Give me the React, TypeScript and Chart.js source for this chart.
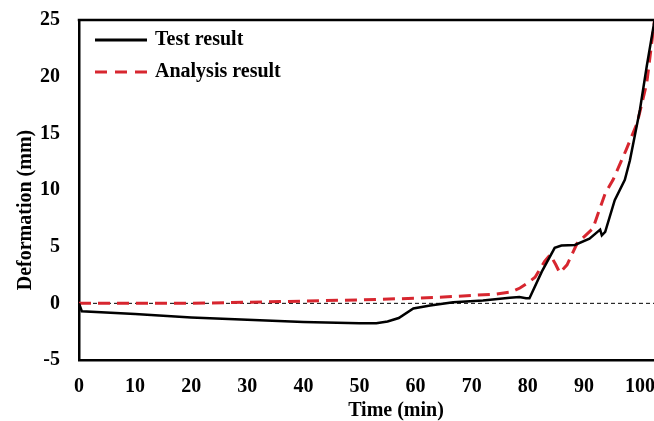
import React, { useEffect, useRef } from "react";
import { Chart, registerables } from "chart.js";

Chart.register(...registerables);

const testTime = [0, 0.5, 10, 20, 30, 40, 50, 53, 55, 57, 59.6, 62.6, 66.7, 72, 76.8, 78.5, 79.7, 80.3, 82.5, 84.8, 86, 88.4, 91, 92.9, 93.2, 93.8, 95.5, 97.3, 98.2, 100, 101.2, 102.3, 102.6];
const testDef = [0, -0.7, -0.95, -1.25, -1.45, -1.65, -1.75, -1.75, -1.6, -1.3, -0.45, -0.2, 0.1, 0.25, 0.5, 0.55, 0.45, 0.45, 2.8, 4.9, 5.1, 5.15, 5.7, 6.5, 6.0, 6.3, 9.1, 10.9, 12.6, 17.1, 20.9, 24.1, 25];

const anaTime = [0, 10, 20, 30, 40, 50, 60, 65, 70, 74, 77, 78.6, 80, 81.3, 83, 84, 85, 85.7, 87, 88.8, 91.6, 93.8, 95.2, 97.5, 99.5, 101.2, 102.1, 102.6];
const anaDef = [0, 0, 0, 0.1, 0.2, 0.3, 0.45, 0.55, 0.7, 0.8, 1.0, 1.35, 1.8, 2.3, 3.7, 4.3, 3.4, 2.7, 3.4, 5.3, 6.6, 9.7, 10.9, 13.5, 15.9, 19.4, 23, 25];

const xTicks = [0, 10, 20, 30, 40, 50, 60, 70, 80, 90, 100];
const yTicks = [-5, 0, 5, 10, 15, 20, 25];

const seriesNames = ["Test result", "Analysis result"];
const xTitle = "Time (min)";
const yTitle = "Deformation (mm)";

const FONT = '"Liberation Serif", "Times New Roman", serif';
const RED = "#d7262f";

export default function App() {
  const ref = useRef<HTMLCanvasElement | null>(null);

  useEffect(() => {
    document.body.style.margin = "0";
    const canvas = ref.current;
    if (!canvas) return;

    const decor = {
      id: "decor",
      beforeDatasetsDraw(chart: any) {
        const { ctx, chartArea, scales } = chart;
        const y0 = scales.y.getPixelForValue(0);
        ctx.save();
        ctx.strokeStyle = "#000";
        ctx.lineWidth = 1;
        ctx.setLineDash([4, 3]);
        ctx.beginPath();
        ctx.moveTo(chartArea.left, y0);
        ctx.lineTo(chartArea.right, y0);
        ctx.stroke();
        ctx.restore();
      },
      afterDraw(chart: any) {
        const { ctx, chartArea } = chart;
        ctx.save();
        // top border
        ctx.strokeStyle = "#000";
        ctx.lineWidth = 2.5;
        ctx.setLineDash([]);
        ctx.beginPath();
        ctx.moveTo(chartArea.left - 1.25, chartArea.top);
        ctx.lineTo(chartArea.right, chartArea.top);
        ctx.stroke();

        // legend
        ctx.lineWidth = 3;
        ctx.strokeStyle = "#000";
        ctx.beginPath();
        ctx.moveTo(95, 40);
        ctx.lineTo(147, 40);
        ctx.stroke();
        ctx.strokeStyle = RED;
        ctx.setLineDash([12, 8]);
        ctx.beginPath();
        ctx.moveTo(95, 72);
        ctx.lineTo(147, 72);
        ctx.stroke();
        ctx.setLineDash([]);
        ctx.fillStyle = "#000";
        ctx.font = `bold 20px ${FONT}`;
        ctx.textAlign = "left";
        ctx.textBaseline = "middle";
        ctx.fillText(seriesNames[0], 155, 40);
        ctx.fillText(seriesNames[1], 155, 72);

        // axis titles
        ctx.textAlign = "center";
        ctx.fillText(xTitle, 396, 411);
        ctx.translate(26, 210);
        ctx.rotate(-Math.PI / 2);
        ctx.fillText(yTitle, 0, 0);
        ctx.restore();
      },
    };

    const chart = new Chart(canvas, {
      type: "line",
      data: {
        datasets: [
          {
            label: seriesNames[0],
            data: testTime.map((t, i) => ({ x: t, y: testDef[i] })),
            borderColor: "#000",
            borderWidth: 2.5,
            pointRadius: 0,
            tension: 0,
            fill: false,
          },
          {
            label: seriesNames[1],
            data: anaTime.map((t, i) => ({ x: t, y: anaDef[i] })),
            borderColor: RED,
            borderWidth: 3,
            borderDash: [12, 7],
            pointRadius: 0,
            tension: 0,
            fill: false,
          },
        ],
      },
      options: {
        animation: false,
        responsive: false,
        devicePixelRatio: 1,
        layout: { padding: { top: 20, right: 0, left: 0, bottom: 0 } },
        plugins: {
          legend: { display: false },
          tooltip: { enabled: false },
        },
        scales: {
          x: {
            type: "linear",
            min: 0,
            max: 102.5,
            afterBuildTicks: (s: any) => {
              s.ticks = xTicks.map((v) => ({ value: v }));
            },
            afterFit: (s: any) => {
              s.height = 61;
              s.paddingLeft = 0;
              s.paddingRight = 0;
            },
            grid: { display: false, drawTicks: false },
            border: { display: true, color: "#000", width: 2.5 },
            ticks: {
              padding: 15,
              color: "#000",
              maxRotation: 0,
              autoSkip: false,
              font: { family: FONT, size: 20, weight: "bold" },
            },
          },
          y: {
            type: "linear",
            min: -5,
            max: 25,
            afterBuildTicks: (s: any) => {
              s.ticks = yTicks.map((v) => ({ value: v }));
            },
            afterFit: (s: any) => {
              s.width = 79;
              s.paddingTop = 0;
              s.paddingBottom = 0;
            },
            grid: { display: false, drawTicks: false },
            border: { display: true, color: "#000", width: 2.5 },
            ticks: {
              padding: 19,
              color: "#000",
              autoSkip: false,
              font: { family: FONT, size: 20, weight: "bold" },
            },
          },
        },
      },
      plugins: [decor],
    } as any);

    return () => chart.destroy();
  }, []);

  return <canvas ref={ref} width={654} height={421} style={{ display: "block" }} />;
}
